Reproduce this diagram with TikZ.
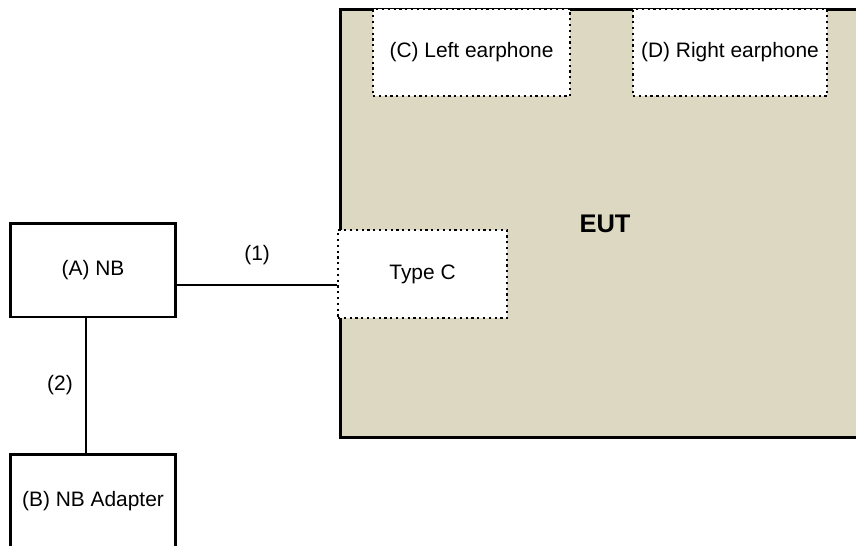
\documentclass[tikz,border=0pt]{standalone}
\usepackage{fontspec}
\setmainfont{Liberation Sans}
\usepackage{tikz}
\usetikzlibrary{positioning}
\definecolor{eutfill}{RGB}{221,216,194}
\tikzstyle{pcbox}=[rectangle, draw=black, line width=1.7pt, fill=white, text centered, font=\fontsize{11.9}{14}\selectfont]
\tikzstyle{portbox}=[rectangle, draw=black, line width=1.3pt, dotted, fill=white, text centered, font=\fontsize{11.9}{14}\selectfont]
\tikzstyle{eutbox}=[rectangle, draw=black, line width=1.7pt, fill=eutfill, font=\fontsize{14.5}{17}\selectfont\bfseries]
\tikzstyle{cable}=[draw=black, line width=0.6pt]
\tikzstyle{tag}=[font=\fontsize{11.9}{14}\selectfont]

\begin{document}
\begin{tikzpicture}[x=0.02cm,y=-0.02cm]
\clip (0,0) rectangle (856,545);
%EUT and its ports
\node[eutbox, minimum width=10.6cm, minimum height=8.58cm](EUT) at (605,223.5){EUT};
\node[portbox, minimum width=3.94cm, minimum height=1.74cm](left) at (471.5,52.5){(C) Left earphone};
\node[portbox, minimum width=3.88cm, minimum height=1.74cm](right) at (730,52.5){(D) Right earphone};
\node[portbox, minimum width=3.38cm, minimum height=1.76cm](typec) at (422.5,274){Type C};
%Support units
\node[pcbox, minimum width=3.32cm, minimum height=1.88cm](nb) at (93,270){(A) NB};
\node[pcbox, minimum width=3.32cm, minimum height=1.88cm](adapter) at (93,501){(B) NB Adapter};
%Cables
\draw[cable] ([yshift=-0.3cm]nb.east) -- ([yshift=-0.3cm]nb.east -| typec.west) node[tag, midway, yshift=0.6cm]{(1)};
\draw[cable] ([xshift=-0.14cm]nb.south) -- ([xshift=-0.14cm]adapter.north) node[tag, midway, xshift=-0.52cm]{(2)};
\end{tikzpicture}
\end{document}
